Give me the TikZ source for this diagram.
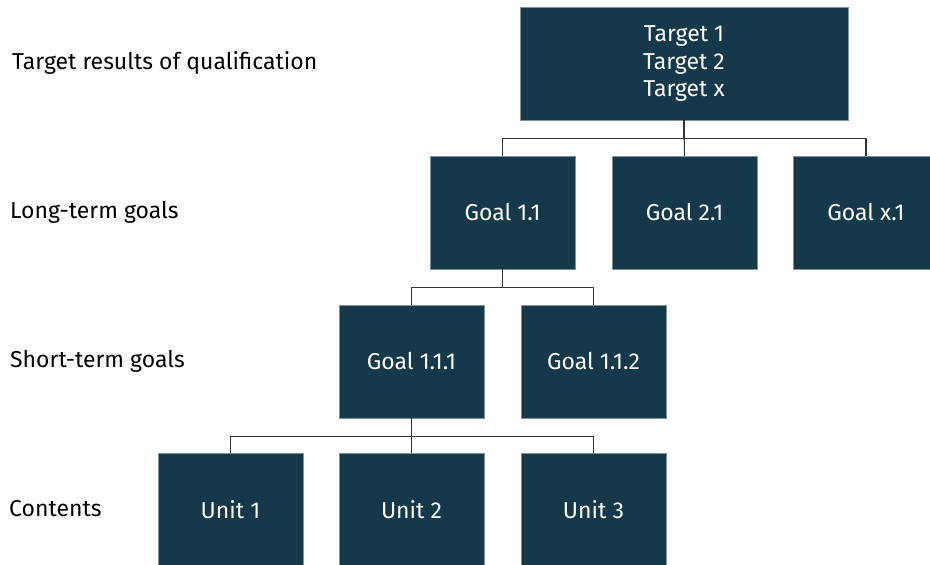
\documentclass[tikz,border=0pt]{standalone}
\usepackage{fontspec}
\setmainfont{Fira Sans}
\usetikzlibrary{calc}
\definecolor{boxfill}{HTML}{15394A}
\definecolor{boxedge}{HTML}{7C959E}
\definecolor{linkcol}{HTML}{333333}
\begin{document}
\begin{tikzpicture}[x=1pt,y=-1pt,
  goalbox/.style={rectangle, fill=boxfill, draw=boxedge, line width=0.5pt,
    minimum width=145pt, minimum height=113pt, inner sep=0pt,
    text=white, font=\fontsize{23}{27.5}\selectfont, align=center},
  levellabel/.style={anchor=base west, inner sep=0pt, text=black,
    font=\fontsize{23}{27.5}\selectfont},
  link/.style={draw=linkcol, line width=1.1pt}]
\useasboundingbox (0,0) rectangle (930,565);
\clip (0,0) rectangle (930,565);

% level labels
\node[levellabel] (l1) at (12,69) {Target results of qualification};
\node[levellabel] (l2) at (10,218) {Long-term goals};
\node[levellabel] (l3) at (10,367) {Short-term goals};
\node[levellabel] (l4) at (9,516) {Contents};

% boxes
\node[goalbox, minimum width=328pt, text depth=4pt] (top) at (684,63.5) {Target 1\\Target 2\\Target x};
\node[goalbox] (g11) at (502.5,212.5) {Goal 1.1};
\node[goalbox] (g21) at (684.5,212.5) {Goal 2.1};
\node[goalbox] (gx1) at (866,212.5) {Goal x.1};
\node[goalbox] (g111) at (411.5,361.5) {Goal 1.1.1};
\node[goalbox] (g112) at (593.5,361.5) {Goal 1.1.2};
\node[goalbox] (u1) at (230.5,510) {Unit 1};
\node[goalbox] (u2) at (411.5,510) {Unit 2};
\node[goalbox] (u3) at (593.5,510) {Unit 3};

% tree connectors
\draw[link] (top.south) -- ++(0,18) -| (g11.north);
\draw[link] (top.south) -- (g21.north);
\draw[link] (top.south) -- ++(0,18) -| (gx1.north);
\draw[link] (g11.south) -- ++(0,18) -| (g111.north);
\draw[link] (g11.south) -- ++(0,18) -| (g112.north);
\draw[link] (g111.south) -- ++(0,18) -| (u1.north);
\draw[link] (g111.south) -- (u2.north);
\draw[link] (g111.south) -- ++(0,18) -| (u3.north);
\end{tikzpicture}
\end{document}
